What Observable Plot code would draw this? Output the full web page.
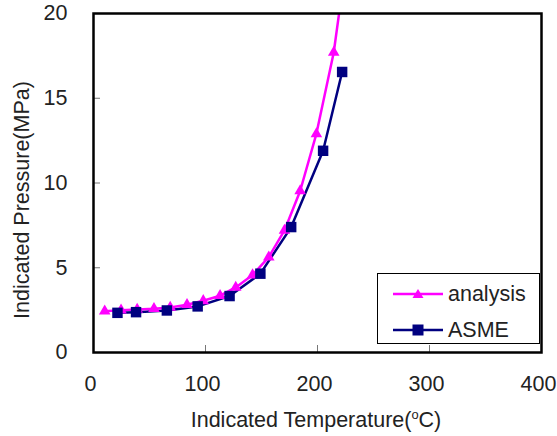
<!DOCTYPE html>
<html>
<head>
<meta charset="utf-8">
<script src="https://cdn.jsdelivr.net/npm/d3@7"></script>
<script src="https://cdn.jsdelivr.net/npm/@observablehq/plot@0.6"></script>
<style>
  html, body { margin: 0; padding: 0; background: #fff; }
  #wrap { position: relative; width: 557px; height: 436px; font-family: "Liberation Sans", Arial, sans-serif; color: #222; }
  .lbl { position: absolute; font-size: 21.5px; white-space: nowrap; color: #222; }
  #xlabel { left: 316px; top: 420px; transform: translate(-50%, -50%); }
  #ylabel { left: 22px; top: 200px; transform: translate(-50%, -50%) rotate(-90deg); }
  #legend { position: absolute; left: 377px; top: 273px; width: 163px; height: 71px; border: 1px solid #000; background: #fff; box-sizing: border-box; }
  .row { position: absolute; left: 0; height: 30px; display: flex; align-items: center; font-size: 21.5px; color: #222; }
  .row svg { margin-left: 15px; margin-right: 5px; }
</style>
</head>
<body>
<div id="wrap">
  <div id="chart"></div>
  <div id="xlabel" class="lbl">Indicated Temperature(<sup style="font-size:0.6em;vertical-align:0.6em">o</sup>C)</div>
  <div id="ylabel" class="lbl">Indicated Pressure(MPa)</div>
  <div id="legend"></div>
</div>
<script>
// Data
const analysisT = [10, 24.6, 39, 54, 68.5, 83.5, 98, 113, 127, 142, 156.5, 170.5, 184.5, 199, 214.5, 229];
const analysisP = [2.44, 2.5, 2.54, 2.58, 2.66, 2.82, 3.05, 3.35, 3.84, 4.57, 5.63, 7.2, 9.53, 12.9, 17.7, 24.7];
const asmeT = [21.4, 38, 65.5, 93, 121.5, 149, 176.5, 205, 222];
const asmeP = [2.34, 2.38, 2.48, 2.72, 3.33, 4.65, 7.4, 11.9, 16.55];
const xTicks = [0, 100, 200, 300, 400];
const yTicks = [0, 5, 10, 15, 20];
const seriesNames = ["analysis", "ASME"];
const seriesColors = ["#ff00ff", "#000080"];
const seriesSymbols = ["triangle", "square"];

const analysis = analysisT.map((t, i) => ({T: t, P: analysisP[i]}));
const asme = asmeT.map((t, i) => ({T: t, P: asmeP[i]}));

const chart = Plot.plot({
  width: 557,
  height: 436,
  marginLeft: 93,
  marginRight: 16,
  marginTop: 13,
  marginBottom: 84,
  style: {fontFamily: '"Liberation Sans", Arial, sans-serif', fontSize: "21.5px", color: "#222", background: "transparent"},
  x: {domain: [0, 400]},
  y: {domain: [0, 20]},
  marks: [
    Plot.axisX({ticks: xTicks, tickSize: 0, tickPadding: 23, dx: -3, label: null, fill: "#222"}),
    Plot.axisY({ticks: yTicks, tickSize: 0, tickPadding: 26, label: null, fill: "#222"}),
    Plot.axisX({ticks: xTicks.slice(1, -1), tickSize: 7, dy: -7, text: null, label: null, stroke: "#777", strokeWidth: 1}),
    Plot.axisY({ticks: yTicks.slice(1, -1), tickSize: 7, dx: 7, text: null, label: null, stroke: "#777", strokeWidth: 1}),
    Plot.line(asme, {x: "T", y: "P", stroke: seriesColors[1], strokeWidth: 2.5, clip: true}),
    Plot.line(analysis, {x: "T", y: "P", stroke: seriesColors[0], strokeWidth: 2.5, clip: true}),
    Plot.dot(analysis, {x: "T", y: "P", symbol: seriesSymbols[0], r: 4.3, fill: seriesColors[0], stroke: "none", clip: true}),
    Plot.dot(asme, {x: "T", y: "P", symbol: seriesSymbols[1], r: 5.9, fill: seriesColors[1], stroke: "none", clip: true}),
    Plot.frame({stroke: "#000", strokeWidth: 2.5})
  ]
});
document.getElementById("chart").appendChild(chart);

// Legend
const legend = document.getElementById("legend");
const rowTops = [5, 41];
seriesNames.forEach((name, i) => {
  const row = document.createElement("div");
  row.className = "row";
  row.style.top = rowTops[i] + "px";
  const sym = i === 0
    ? `<polygon points="25,1 30.5,10 19.5,10" fill="${seriesColors[i]}"/>`
    : `<rect x="19.5" y="0.5" width="11" height="11" fill="${seriesColors[i]}"/>`;
  row.innerHTML = `<svg width="50" height="12" style="overflow:visible"><line x1="0" x2="50" y1="6" y2="6" stroke="${seriesColors[i]}" stroke-width="2.5"/>${sym}</svg><span>${name}</span>`;
  legend.appendChild(row);
});
</script>
</body>
</html>
